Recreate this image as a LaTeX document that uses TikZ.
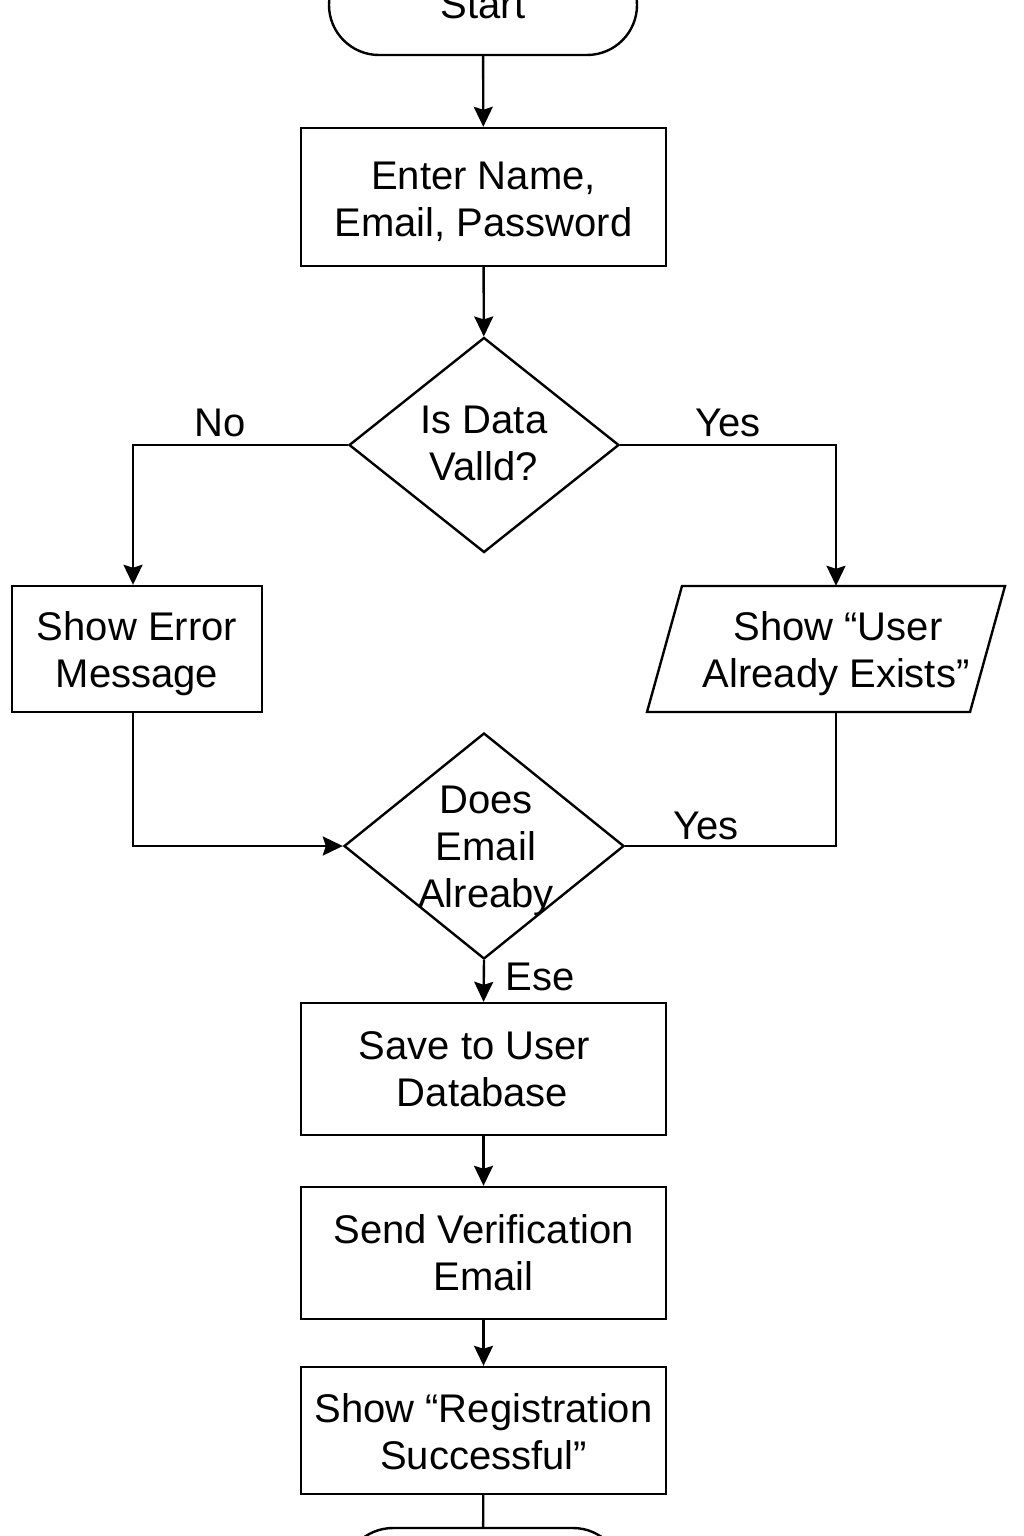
\documentclass[tikz,border=0pt]{standalone}
\usepackage{fontspec}
\setmainfont{Liberation Sans}
\usetikzlibrary{arrows.meta,shapes.geometric,calc}
\begin{document}
\begin{tikzpicture}[x=1pt,y=-1pt,
  every node/.style={font=\fontsize{40}{47}\selectfont, inner sep=0pt, align=center},
  ln/.style={line width=2.4pt},
  arr/.style={ln, -{Stealth[length=20pt,width=19pt,inset=3pt]}},
  box/.style={draw, ln, rectangle, minimum width=365pt},
  dia/.style={draw, ln, diamond},
  term/.style={draw, ln, rectangle, rounded corners=50pt, minimum height=100pt}]
\useasboundingbox (0,0) rectangle (1024,1536);
\clip (0,0) rectangle (1024,1536);
\fill[white] (0,0) rectangle (1024,1536);
% nodes
\node[term, minimum width=308pt] (start) at (483,5) {Start};
\node[box, minimum height=138pt] (b1) at (483.5,197) {\rule{0pt}{37pt}Enter Name,\\Email, Password};
\node[dia, minimum width=270pt, minimum height=215pt] (d1) at (484,445) {};
\node (d1t) at (484,443) {Is Data\\Valld?};
\node[box, minimum width=250pt, minimum height=126pt] (err) at (137,649) {\rule{0pt}{39pt}Show Error\\Message};
\draw[ln, line join=miter] (682,586) -- (1005,586) -- (970,712) -- (647,712) -- cycle;
\node[minimum height=126pt] (par) at (836,649) {\rule{0pt}{39pt}\hspace*{4pt}Show “User\\Already Exists”};
\node[dia, minimum width=280pt, minimum height=226pt] (d2) at (484,846) {};
\node (d2t) at (486,851) {Does\\Email\\Alreaby};
\node[box, minimum height=132pt] (save) at (483.5,1069) {\hspace*{-18pt}Save to User\\\hspace*{-2pt}Database};
\node[box, minimum height=132pt] (send) at (483.5,1253) {Send Verification\\Email};
\node[box, minimum height=127pt] (reg) at (483.5,1430.5) {\rule{0pt}{32pt}Show “Registration\\Successful”};
\node[term, minimum width=280pt] (end) at (483,1578) {};
% labels
\node (no) at (220,423) {No};
\node (yes1) at (728,423) {Yes};
\node (yes2) at (706,826) {Yes};
\node (ese) at (540,977) {Ese};
% connectors
\draw[arr] (start) -- (b1);
\draw[arr] (b1) -- (d1);
\draw[arr] (d1.west) -| ($(err.north)+(-4,0)$);
\draw[arr] (d1.east) -| (par.north);
\draw[arr] ($(err.south)+(-4,0)$) |- (d2.west);
\draw[ln] (par.south) |- (d2.east);
\draw[arr] (d2.south) -- (save.north);
\draw[arr] (save) -- (send);
\draw[arr] (send) -- (reg);
\draw[ln] (reg) -- (end);
\end{tikzpicture}
\end{document}
